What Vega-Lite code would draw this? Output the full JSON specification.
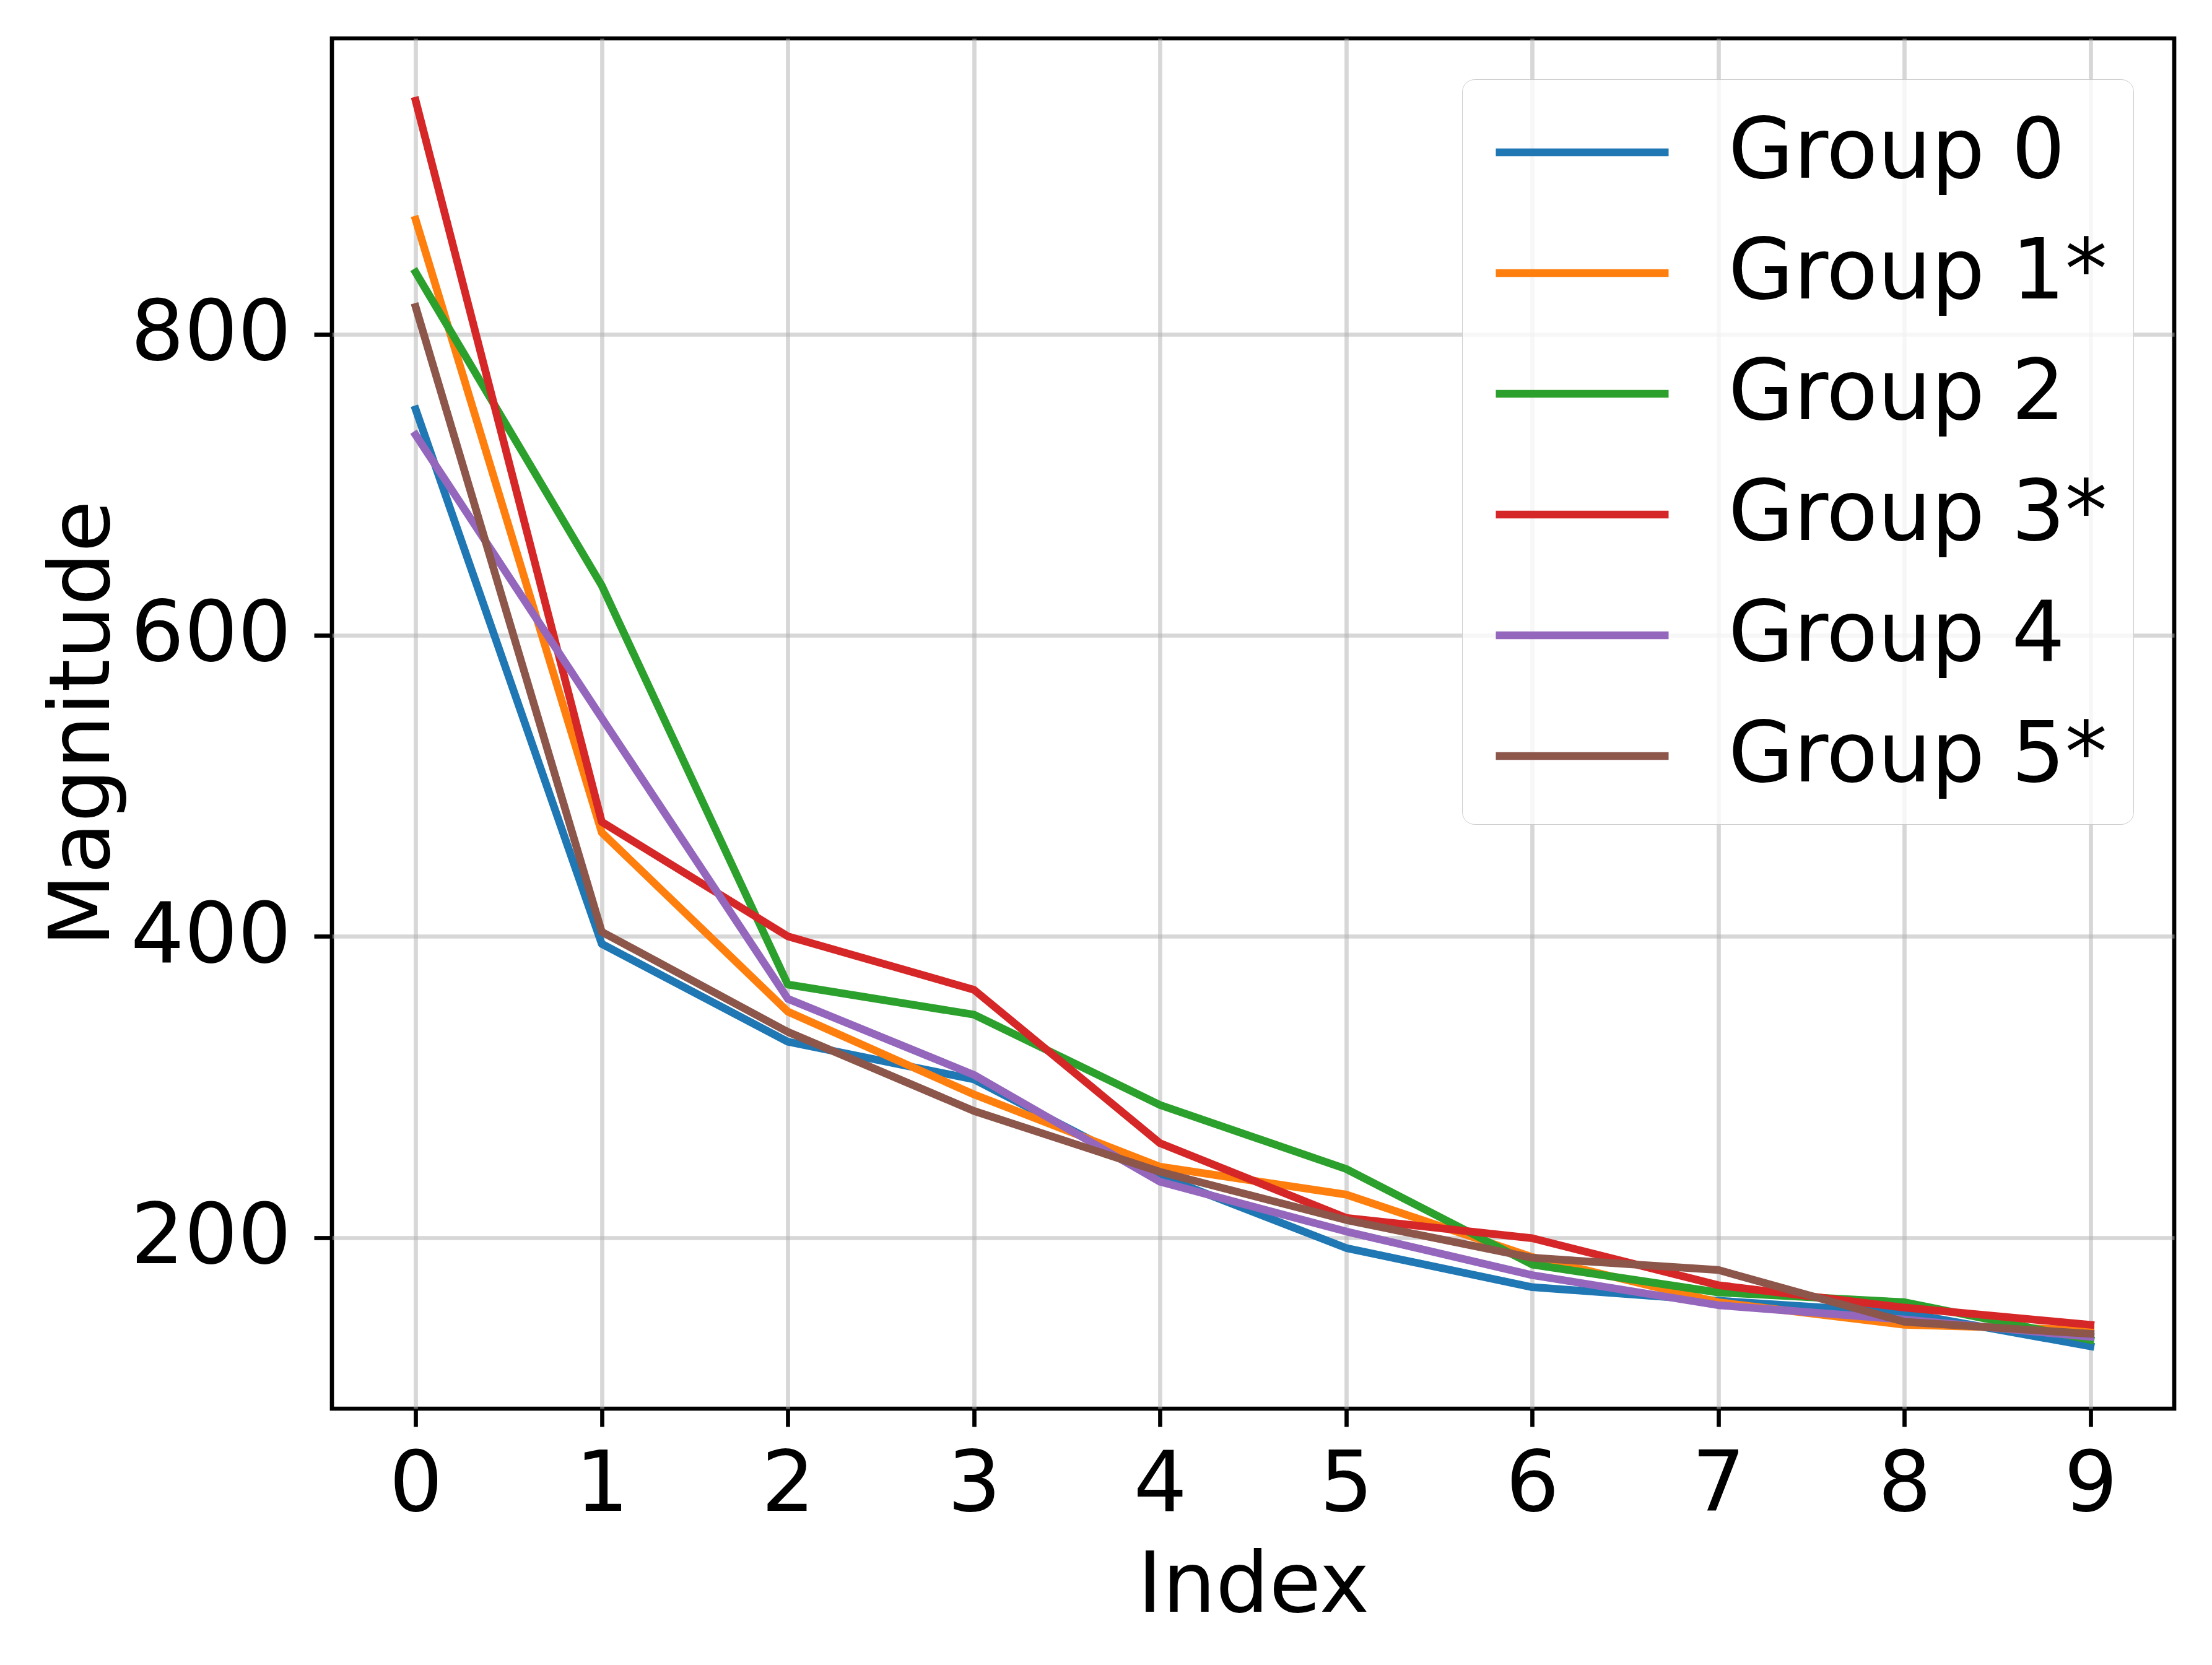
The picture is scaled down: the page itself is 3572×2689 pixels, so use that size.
{
  "$schema": "https://vega.github.io/schema/vega-lite/v6.json",
  "width": 2975,
  "height": 2213,
  "autosize": {"type": "none"},
  "padding": {"left": 536, "top": 62, "right": 61, "bottom": 414},
  "background": "white",
  "config": {
    "font": "DejaVu Sans",
    "view": {"stroke": "black", "strokeWidth": 6.7},
    "axis": {
      "domain": false,
      "grid": true,
      "gridColor": "#b0b0b0",
      "gridOpacity": 0.5,
      "gridWidth": 6.7,
      "tickColor": "black",
      "tickWidth": 6.7,
      "tickSize": 29,
      "labelFont": "DejaVu Sans",
      "labelFontSize": 136,
      "labelColor": "black",
      "labelLimit": 2000,
      "titleFont": "DejaVu Sans",
      "titleFontSize": 136,
      "titleFontWeight": "normal",
      "titleColor": "black"
    }
  },
  "data": {
    "values": [
      {"group": "Group 0", "index": 0, "magnitude": 750},
      {"group": "Group 0", "index": 1, "magnitude": 395},
      {"group": "Group 0", "index": 2, "magnitude": 330},
      {"group": "Group 0", "index": 3, "magnitude": 305},
      {"group": "Group 0", "index": 4, "magnitude": 241},
      {"group": "Group 0", "index": 5, "magnitude": 193},
      {"group": "Group 0", "index": 6, "magnitude": 167},
      {"group": "Group 0", "index": 7, "magnitude": 158},
      {"group": "Group 0", "index": 8, "magnitude": 150},
      {"group": "Group 0", "index": 9, "magnitude": 127.7},
      {"group": "Group 1*", "index": 0, "magnitude": 876},
      {"group": "Group 1*", "index": 1, "magnitude": 469},
      {"group": "Group 1*", "index": 2, "magnitude": 350},
      {"group": "Group 1*", "index": 3, "magnitude": 295},
      {"group": "Group 1*", "index": 4, "magnitude": 247},
      {"group": "Group 1*", "index": 5, "magnitude": 228.5},
      {"group": "Group 1*", "index": 6, "magnitude": 187},
      {"group": "Group 1*", "index": 7, "magnitude": 157},
      {"group": "Group 1*", "index": 8, "magnitude": 142},
      {"group": "Group 1*", "index": 9, "magnitude": 138.5},
      {"group": "Group 2", "index": 0, "magnitude": 841},
      {"group": "Group 2", "index": 1, "magnitude": 633},
      {"group": "Group 2", "index": 2, "magnitude": 368},
      {"group": "Group 2", "index": 3, "magnitude": 348},
      {"group": "Group 2", "index": 4, "magnitude": 288},
      {"group": "Group 2", "index": 5, "magnitude": 245.5},
      {"group": "Group 2", "index": 6, "magnitude": 182},
      {"group": "Group 2", "index": 7, "magnitude": 163.5},
      {"group": "Group 2", "index": 8, "magnitude": 157},
      {"group": "Group 2", "index": 9, "magnitude": 132},
      {"group": "Group 3*", "index": 0, "magnitude": 955},
      {"group": "Group 3*", "index": 1, "magnitude": 476},
      {"group": "Group 3*", "index": 2, "magnitude": 400},
      {"group": "Group 3*", "index": 3, "magnitude": 364.5},
      {"group": "Group 3*", "index": 4, "magnitude": 262.6},
      {"group": "Group 3*", "index": 5, "magnitude": 213},
      {"group": "Group 3*", "index": 6, "magnitude": 199.5},
      {"group": "Group 3*", "index": 7, "magnitude": 168.3},
      {"group": "Group 3*", "index": 8, "magnitude": 153.4},
      {"group": "Group 3*", "index": 9, "magnitude": 142},
      {"group": "Group 4", "index": 0, "magnitude": 733},
      {"group": "Group 4", "index": 1, "magnitude": 545},
      {"group": "Group 4", "index": 2, "magnitude": 358.5},
      {"group": "Group 4", "index": 3, "magnitude": 308},
      {"group": "Group 4", "index": 4, "magnitude": 237},
      {"group": "Group 4", "index": 5, "magnitude": 204},
      {"group": "Group 4", "index": 6, "magnitude": 175},
      {"group": "Group 4", "index": 7, "magnitude": 155},
      {"group": "Group 4", "index": 8, "magnitude": 145.5},
      {"group": "Group 4", "index": 9, "magnitude": 134},
      {"group": "Group 5*", "index": 0, "magnitude": 818},
      {"group": "Group 5*", "index": 1, "magnitude": 403},
      {"group": "Group 5*", "index": 2, "magnitude": 336.5},
      {"group": "Group 5*", "index": 3, "magnitude": 284},
      {"group": "Group 5*", "index": 4, "magnitude": 243.6},
      {"group": "Group 5*", "index": 5, "magnitude": 211.6},
      {"group": "Group 5*", "index": 6, "magnitude": 186.5},
      {"group": "Group 5*", "index": 7, "magnitude": 178.4},
      {"group": "Group 5*", "index": 8, "magnitude": 144},
      {"group": "Group 5*", "index": 9, "magnitude": 136}
    ]
  },
  "mark": {"type": "line", "strokeWidth": 12.5, "strokeCap": "square", "strokeJoin": "round"},
  "encoding": {
    "x": {
      "field": "index",
      "type": "quantitative",
      "scale": {"domain": [-0.45, 9.45], "nice": false, "zero": false},
      "axis": {"values": [0, 1, 2, 3, 4, 5, 6, 7, 8, 9], "format": "d", "title": "Index", "labelPadding": 28, "titleY": 327, "titleBaseline": "alphabetic"}
    },
    "y": {
      "field": "magnitude",
      "type": "quantitative",
      "scale": {"domain": [86.3, 996.4], "nice": false, "zero": false},
      "axis": {"values": [200, 400, 600, 800], "title": "Magnitude", "labelPadding": 37, "titleX": -361, "titleY": 1106, "titleAngle": -90, "titleAlign": "center", "titleBaseline": "alphabetic"}
    },
    "color": {
      "field": "group",
      "type": "nominal",
      "scale": {
        "domain": ["Group 0", "Group 1*", "Group 2", "Group 3*", "Group 4", "Group 5*"],
        "range": ["#1f77b4", "#ff7f0e", "#2ca02c", "#d62728", "#9467bd", "#8c564b"]
      },
      "legend": {
        "title": null,
        "orient": "top-right",
        "offset": 66,
        "symbolType": "M-2,0H2",
        "symbolSize": 19460,
        "symbolStrokeWidth": 12.5,
        "symbolOffset": 76,
        "labelFont": "DejaVu Sans",
        "labelFontSize": 136,
        "labelColor": "black",
        "labelLimit": 2000,
        "labelOffset": 160,
        "rowPadding": 51,
        "padding": 42,
        "strokeColor": "#cccccc",
        "fillColor": "rgba(255,255,255,0.8)",
        "cornerRadius": 20
      }
    }
  }
}
